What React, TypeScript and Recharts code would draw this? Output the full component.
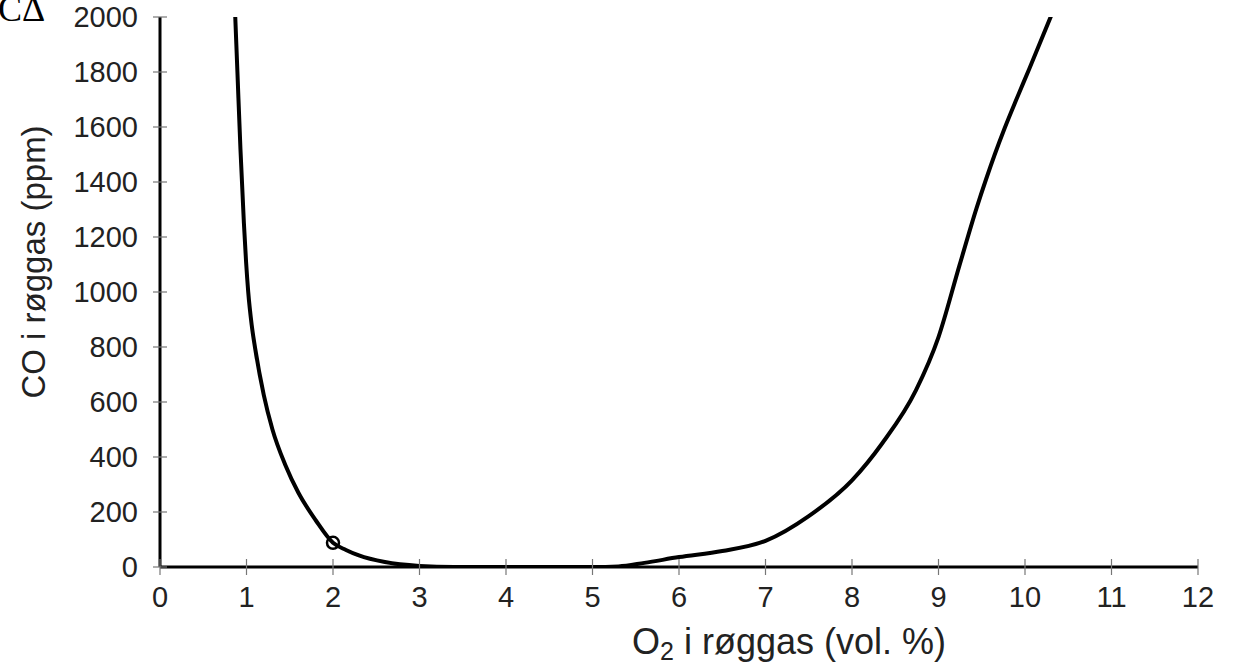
import React from 'react';
import { ComposedChart, Line, Scatter, XAxis, YAxis } from 'recharts';

const o2Values = [0.87, 0.895, 0.93, 0.97, 0.995, 1.02, 1.06, 1.1, 1.2, 1.3, 1.45, 1.6, 1.8, 2.0, 2.15, 2.3, 2.6, 3.0, 3.4, 4.0, 4.5, 5.0, 5.3, 5.6, 6.0, 6.5, 7.0, 7.5, 8.0, 8.35, 8.74, 9.0, 9.24, 9.44, 9.55, 9.65, 9.76, 9.9, 10.05, 10.3];
const coValues = [2000, 1800, 1520, 1250, 1110, 1000, 880, 795, 625, 500, 370, 270, 170, 88, 62, 42, 18, 4, 0, 0, 0, 0, 2, 15, 36, 58, 95, 185, 315, 450, 643, 836, 1094, 1305, 1410, 1500, 1592, 1700, 1812, 2003];
const markerO2 = [2.0];
const markerCO = [88];
const xTicks = [0, 1, 2, 3, 4, 5, 6, 7, 8, 9, 10, 11, 12];
const yTicks = [0, 200, 400, 600, 800, 1000, 1200, 1400, 1600, 1800, 2000];

const curveData = o2Values.map((x, i) => ({ x, y: coValues[i] }));
const markerData = markerO2.map((x, i) => ({ x, y: markerCO[i] }));

const FONT = 'Liberation Sans, Arial, sans-serif';

const XTick = (props: any) => {
  const { x, y, payload } = props;
  return (
    <g>
      <line x1={x} x2={x} y1={y - 8} y2={y + 8} stroke="#777" strokeWidth={1.2} />
      <text x={x} y={y + 40} textAnchor="middle" fontSize={29} fontFamily={FONT} fill="#222">
        {payload.value}
      </text>
    </g>
  );
};

const YTick = (props: any) => {
  const { x, y, payload } = props;
  return (
    <g>
      <line x1={x - 7} x2={x + 7} y1={y} y2={y} stroke="#777" strokeWidth={1.2} />
      <text x={x - 22} y={y} dy="0.36em" textAnchor="end" fontSize={29} fontFamily={FONT} fill="#222">
        {payload.value}
      </text>
    </g>
  );
};

const XTitle = (props: any) => {
  const vb = props.viewBox || {};
  const cx = vb.x + vb.width / 2 + 110;
  return (
    <text x={cx} y={654} textAnchor="middle" fontSize={36} fontFamily={FONT} fill="#222">
      O<tspan fontSize={25} dy={6}>2</tspan>
      <tspan dy={-6}> i røggas (vol. %)</tspan>
    </text>
  );
};

const YTitle = () => (
  <text
    x={0}
    y={0}
    transform="translate(45, 262) rotate(-90)"
    textAnchor="middle"
    fontSize={33}
    fontFamily={FONT}
    fill="#222"
  >
    CO i røggas (ppm)
  </text>
);

const Marker = (props: any) => {
  const { cx, cy } = props;
  return <circle cx={cx} cy={cy} r={6} fill="none" stroke="#000" strokeWidth={2.5} />;
};

export default function App() {
  return (
    <div style={{ position: 'absolute', left: 0, top: 0, width: 1241, height: 667, background: '#fff', overflow: 'hidden' }}>
      <div
        style={{
          position: 'absolute',
          left: -2,
          top: -9,
          fontFamily: 'Liberation Serif, DejaVu Serif, serif',
          fontSize: 36,
          color: '#000',
          lineHeight: 1,
        }}
      >
        CΔ
      </div>
      <ComposedChart
        width={1241}
        height={667}
        data={curveData}
        margin={{ top: 17, right: 43, left: 0, bottom: 0 }}
      >
        <XAxis
          type="number"
          dataKey="x"
          domain={[0, 12]}
          ticks={xTicks}
          interval={0}
          height={100}
          tickSize={0}
          tickMargin={0}
          tickLine={false}
          axisLine={{ stroke: '#000', strokeWidth: 3 }}
          tick={<XTick />}
          label={<XTitle />}
          allowDataOverflow
        />
        <YAxis
          type="number"
          dataKey="y"
          domain={[0, 2000]}
          ticks={yTicks}
          interval={0}
          width={160}
          tickSize={0}
          tickMargin={0}
          tickLine={false}
          axisLine={{ stroke: '#000', strokeWidth: 3 }}
          tick={<YTick />}
          label={<YTitle />}
          allowDataOverflow
        />
        <Line
          type="monotone"
          dataKey="y"
          stroke="#000"
          strokeWidth={4}
          dot={false}
          isAnimationActive={false}
        />
        <Scatter data={markerData} dataKey="y" shape={<Marker />} isAnimationActive={false} />
      </ComposedChart>
    </div>
  );
}
